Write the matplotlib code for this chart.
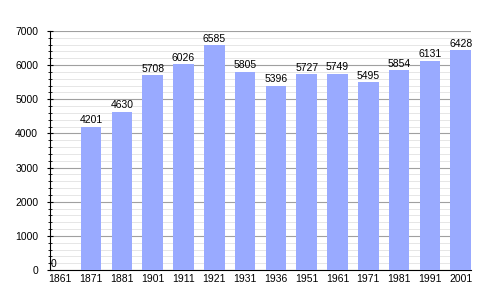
import matplotlib
matplotlib.use("Agg")
import matplotlib.pyplot as plt
from matplotlib.ticker import MultipleLocator

years = ["1861", "1871", "1881", "1901", "1911", "1921", "1931", "1936",
         "1951", "1961", "1971", "1981", "1991", "2001"]
population = [0, 4201, 4630, 5708, 6026, 6585, 5805, 5396,
              5727, 5749, 5495, 5854, 6131, 6428]

plt.rcParams['font.family'] = ['Liberation Sans', 'DejaVu Sans']

fig = plt.figure(figsize=(5, 3), dpi=100)
ax = fig.add_axes([0.1, 0.1, 0.842, 0.797])

bw = 0.67
x = list(range(len(years)))
bars = ax.bar(x, population, width=bw, color="#99aaff", zorder=3)

for xi, v in zip(x, population):
    if v == 0:
        ax.text(xi - bw / 2 + 0.02, v + 30, str(v), ha="left", va="bottom", fontsize=7.5, zorder=4)
    else:
        ax.text(xi, v + 40, str(v), ha="center", va="bottom", fontsize=7.5, zorder=4)

ax.set_xlim(-bw / 2, len(years) - 1 + bw / 2)
ax.set_ylim(0, 7000)
ax.set_xticks(x)
ax.set_xticklabels(years)
ax.yaxis.set_major_locator(MultipleLocator(1000))
ax.yaxis.set_minor_locator(MultipleLocator(200))

ax.grid(axis="y", which="major", color="#a0a0a0", linewidth=0.8, zorder=1)
ax.grid(axis="y", which="minor", color="#e2e2e2", linewidth=0.6, zorder=0)

for s in ["top", "right"]:
    ax.spines[s].set_visible(False)
ax.spines["left"].set_linewidth(0.8)
ax.spines["bottom"].set_linewidth(0.8)

ax.tick_params(axis="x", length=0, labelsize=7.5, pad=3)
ax.tick_params(axis="y", which="major", length=5, direction="inout", labelsize=7.5, pad=6)
ax.tick_params(axis="y", which="minor", length=3, direction="inout")

fig.savefig("out.png", dpi=100)
